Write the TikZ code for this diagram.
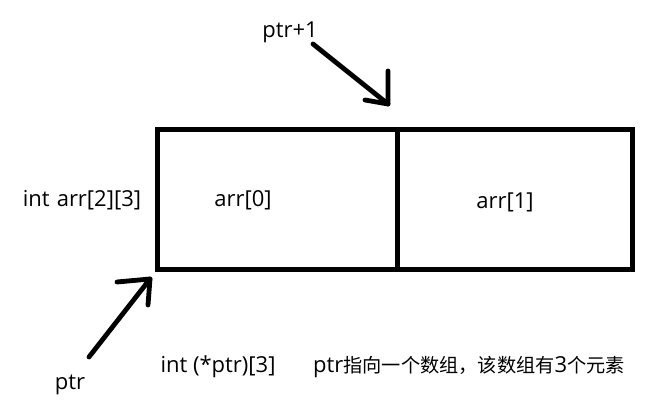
\documentclass[tikz,border=0pt]{standalone}
\usepackage{fontspec}
\setmainfont{Open Sans}
\newfontfamily\cjk{Noto Sans CJK SC}
\begin{document}
\begin{tikzpicture}[x=1pt,y=-1pt,
  cell/.style={draw,line width=5pt,minimum height=139pt,inner sep=0pt,anchor=north west},
  lbl/.style={font=\fontsize{22}{24}\selectfont,inner sep=0pt},
  pen/.style={line width=4.8pt,line cap=round,line join=round}]
\useasboundingbox (0,0) rectangle (651,401);
\node[cell,minimum width=240pt] (c0) at (155,127.5) {};
\node[cell,minimum width=234.5pt] (c1) at (395,127.5) {};
\node[lbl] (l0) at (243,200) {arr[0]};
\node[lbl] (l1) at (505,202) {arr[1]};
\node[lbl] (decl) at (82,200) {int\hspace{0.32em}arr[2][3]};
\node[lbl] (p1) at (290,32) {ptr+1};
\node[lbl] (p) at (70,385) {ptr};
\node[lbl] (pdecl) at (218,367) {int (*ptr)[3]};
\node[lbl] (note) at (469,367) {ptr{\cjk\fontsize{19.2}{22}\selectfont 指向一个数组，该数组有}3{\cjk\fontsize{19.2}{22}\selectfont 个元素}};
% ptr+1 arrow
\coordinate (a1t) at (313,44);
\coordinate (a1h) at (388,104);
\coordinate (a1l) at (365,100);
\coordinate (a1u) at (388,71);
\draw[pen] (a1t) -- (a1h);
\draw[pen] (a1l) -- (a1h) -- (a1u);
% ptr arrow
\coordinate (a2t) at (89,357);
\coordinate (a2h) at (150,279);
\coordinate (a2l) at (117,282);
\coordinate (a2d) at (148,305);
\draw[pen] (a2t) -- (a2h);
\draw[pen] (a2l) -- (a2h) -- (a2d);
\end{tikzpicture}
\end{document}
